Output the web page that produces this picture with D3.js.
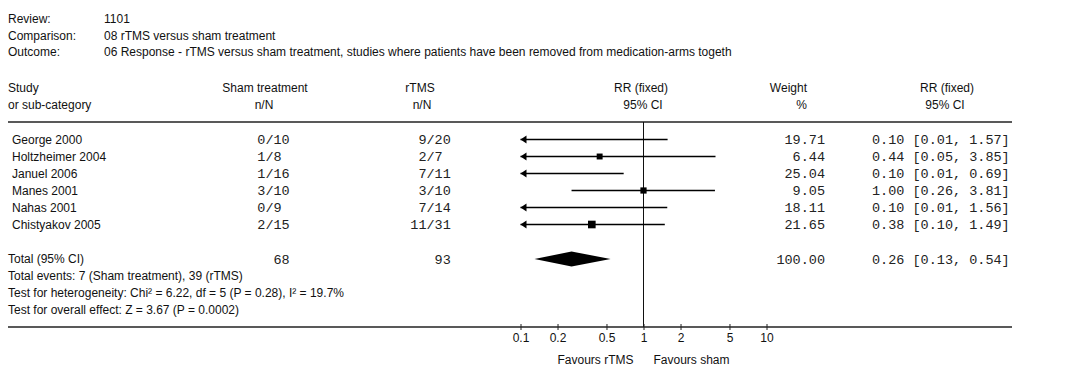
<!DOCTYPE html>
<html>
<head>
<meta charset="utf-8">
<script src="https://cdn.jsdelivr.net/npm/d3@7"></script>
<style>
  body { margin: 0; background: #fff; }
  text { font-family: "Liberation Sans", Arial, sans-serif; font-size: 12px; fill: #111; }
  text.mono { font-family: "Liberation Mono", "Courier New", monospace; font-size: 13.5px; fill: #222; }
</style>
</head>
<body>
<div id="chart"></div>
<script>
// header info
const infoLabels = ['Review:', 'Comparison:', 'Outcome:'];
const infoValues = ['1101', '08 rTMS versus sham treatment',
  '06 Response - rTMS versus sham treatment, studies where patients have been removed from medication-arms togeth'];

// studies
const studies = ['George 2000', 'Holtzheimer 2004', 'Januel 2006', 'Manes 2001', 'Nahas 2001', 'Chistyakov 2005'];
const shamEvents = [0, 1, 1, 3, 0, 2];
const shamTotal = [10, 8, 16, 10, 9, 15];
const rtmsEvents = [9, 2, 7, 3, 7, 11];
const rtmsTotal = [20, 7, 11, 10, 14, 31];
const weights = [19.71, 6.44, 25.04, 9.05, 18.11, 21.65];
const rr = [0.10, 0.44, 0.10, 1.00, 0.10, 0.38];
const rrLow = [0.01, 0.05, 0.01, 0.26, 0.01, 0.10];
const rrHigh = [1.57, 3.85, 0.69, 3.81, 1.56, 1.49];

// pooled
const totalSham = 68, totalRtms = 93, totalWeight = 100.00;
const pooled = { rr: 0.26, lo: 0.13, hi: 0.54 };
const footLines = [
  'Total events: 7 (Sham treatment), 39 (rTMS)',
  'Test for heterogeneity: Chi\u00b2 = 6.22, df = 5 (P = 0.28), I\u00b2 = 19.7%',
  'Test for overall effect: Z = 3.67 (P = 0.0002)'
];
const tickValues = [0.1, 0.2, 0.5, 1, 2, 5, 10];

const width = 1084, height = 367;
const svg = d3.select('#chart').append('svg')
  .attr('width', width)
  .attr('height', height);

const x = d3.scaleLog().domain([0.1, 10]).range([520.5, 766.5]);
const rowY = i => 139.5 + i * 17;
const totalY = 259;
const axisY = 327;
const size = d3.scaleLinear().domain([0, 25]).range([5.2, 8]);

// header info lines
infoLabels.forEach((l, i) => {
  svg.append('text').attr('x', 8).attr('y', 19 + i * 16.5).attr('dy', '0.35em').text(l);
  svg.append('text').attr('x', 104).attr('y', 19 + i * 16.5).attr('dy', '0.35em').text(infoValues[i]);
});

// column headers
const head = (t, xx, yy, anchor) => svg.append('text')
  .attr('x', xx).attr('y', yy).attr('dy', '0.35em')
  .attr('text-anchor', anchor || 'middle').text(t);
head('Study', 8, 88, 'start');
head('or sub-category', 8, 105, 'start');
head('Sham treatment', 265, 88);
head('n/N', 264, 105);
head('rTMS', 420, 88);
head('n/N', 422, 105);
head('RR (fixed)', 641, 88);
head('95% CI', 643, 105);
head('Weight', 807, 88, 'end');
head('%', 807, 105, 'end');
head('RR (fixed)', 947, 88);
head('95% CI', 945, 105);

// rules
svg.append('line').attr('x1', 8).attr('x2', 1012).attr('y1', 122).attr('y2', 122)
  .attr('stroke', '#222').attr('stroke-width', 1.6);
svg.append('line').attr('x1', 8).attr('x2', 1012).attr('y1', axisY).attr('y2', axisY)
  .attr('stroke', '#222').attr('stroke-width', 1.6);

// line of no effect
svg.append('line').attr('x1', x(1)).attr('x2', x(1)).attr('y1', 122).attr('y2', axisY)
  .attr('stroke', '#111').attr('stroke-width', 1);

const fmt2 = d3.format('.2f');
const mono = (t, xx, yy, anchor) => svg.append('text').attr('class', 'mono')
  .attr('x', xx).attr('y', yy).attr('dy', '0.35em')
  .attr('text-anchor', anchor).text(t);

const shamSlash = 265.4, rtmsSlash = 426.5, charW = 8.1;

studies.forEach((s, i) => {
  const y = rowY(i);
  svg.append('text').attr('x', 12).attr('y', y).attr('dy', '0.35em').text(s);
  mono(shamEvents[i], shamSlash, y, 'end');
  mono('/' + shamTotal[i], shamSlash, y, 'start');
  mono(rtmsEvents[i], rtmsSlash, y, 'end');
  mono('/' + rtmsTotal[i], rtmsSlash, y, 'start');
  mono(fmt2(weights[i]), 825, y, 'end');
  mono(`${fmt2(rr[i])} [${fmt2(rrLow[i])}, ${fmt2(rrHigh[i])}]`, 872, y, 'start');

  // CI line, clipped to the plotted range with an arrow
  const lo = Math.max(rrLow[i], 0.1), hi = Math.min(rrHigh[i], 10);
  svg.append('line').attr('x1', x(lo)).attr('x2', x(hi)).attr('y1', y).attr('y2', y)
    .attr('stroke', '#000').attr('stroke-width', 1.5);
  if (rrLow[i] <= 0.1) {
    const tx = x(0.1);
    svg.append('path')
      .attr('d', `M${tx},${y}L${tx + 6},${y - 4}L${tx + 6},${y + 4}Z`)
      .attr('fill', '#000');
  }
  if (rr[i] > 0.1 && rr[i] < 10) {
    const sz = size(weights[i]);
    svg.append('rect')
      .attr('x', x(rr[i]) - sz / 2).attr('y', y - sz / 2)
      .attr('width', sz).attr('height', sz)
      .attr('fill', '#000');
  }
});

// total row
svg.append('text').attr('x', 8).attr('y', totalY).attr('dy', '0.35em').text('Total (95% CI)');
mono(totalSham, shamSlash + 3 * charW, totalY, 'end');
mono(totalRtms, rtmsSlash + 3 * charW, totalY, 'end');
mono(fmt2(totalWeight), 825, totalY, 'end');
mono(`${fmt2(pooled.rr)} [${fmt2(pooled.lo)}, ${fmt2(pooled.hi)}]`, 872, totalY, 'start');
svg.append('path')
  .attr('d', `M${x(pooled.lo)},${totalY}L${x(pooled.rr)},${totalY - 7.5}L${x(pooled.hi)},${totalY}L${x(pooled.rr)},${totalY + 7.5}Z`)
  .attr('fill', '#000');

footLines.forEach((t, i) => {
  svg.append('text').attr('x', 8).attr('y', 276 + i * 16.7).attr('dy', '0.35em').text(t);
});

// axis
const axis = svg.append('g')
  .attr('transform', `translate(0,${axisY})`)
  .call(d3.axisBottom(x).tickValues(tickValues).tickFormat(d => String(d)).tickSize(3));
axis.select('.domain').remove();
axis.selectAll('.tick line').attr('y1', -3).attr('stroke', '#222');
axis.selectAll('.tick text')
  .attr('y', 11).attr('dy', '0.35em')
  .style('font-family', '"Liberation Sans", Arial, sans-serif')
  .style('font-size', '12px').attr('fill', '#111');

svg.append('text').attr('x', x(1) - 10).attr('y', 360).attr('dy', '0.35em')
  .attr('text-anchor', 'end').text('Favours rTMS');
svg.append('text').attr('x', x(1) + 10).attr('y', 360).attr('dy', '0.35em')
  .attr('text-anchor', 'start').text('Favours sham');
</script>
</body>
</html>
